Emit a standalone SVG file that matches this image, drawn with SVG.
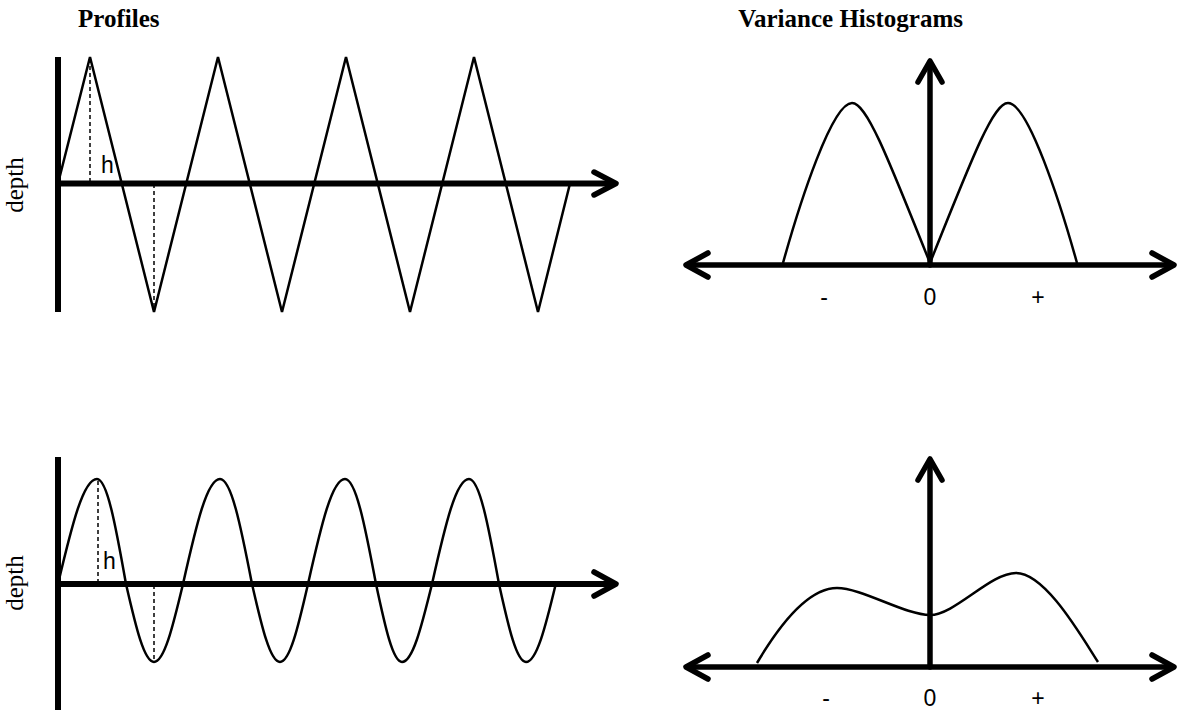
<svg xmlns="http://www.w3.org/2000/svg" width="1177" height="713" viewBox="0 0 1177 713">
<style>
.title{font-family:"Liberation Serif","Times New Roman",serif;font-weight:bold;font-size:25px;fill:#000}
.depth{font-family:"Liberation Serif","Times New Roman",serif;font-size:25px;fill:#000}
.lbl{font-family:"Liberation Sans",Arial,sans-serif;font-size:23px;fill:#000}
.axis{stroke:#000;stroke-width:6;fill:none}
.arrow{stroke:#000;stroke-width:5.5;fill:none;stroke-linecap:round;stroke-linejoin:round}
.wave{stroke:#000;stroke-width:2.5;fill:none;stroke-linejoin:miter}
.dash{stroke:#000;stroke-width:1.5;stroke-dasharray:4 3;fill:none}
</style>
<rect width="1177" height="713" fill="#fff"/>
<text class="title" x="78" y="27">Profiles</text>
<text class="title" x="963" y="27" text-anchor="end">Variance Histograms</text>

<g id="profile-triangle">
<text class="depth" transform="translate(23,185) rotate(-90)" text-anchor="middle">depth</text>
<polyline class="wave" points="58,183.5 90,57 154,312 218,57 282,312 346,57 410,312 474,57 538,312 570,183.5"/>
<line class="dash" x1="90" y1="59" x2="90" y2="183"/>
<line class="dash" x1="154" y1="184" x2="154" y2="310"/>
<text class="lbl" x="101" y="173">h</text>
</g>

<g id="profile-sine">
<text class="depth" transform="translate(23,583) rotate(-90)" text-anchor="middle">depth</text>
<path class="wave" d="M58,584 C72.2,523.9 83.5,479 97,479 C107,479 115.4,523.9 126,584
C136.2,628.6 144.3,662 154,662 C164,662 172.4,628.6 183,584
C196.5,523.9 207.2,479 220,479 C231.1,479 240.4,523.9 252,584
C262.2,628.6 270.3,662 280,662 C289.7,662 297.8,628.6 308,584
C321.5,523.9 332.2,479 345,479 C355.7,479 364.7,523.9 376,584
C385.5,628.6 393,662 402,662 C412.4,662 421.1,628.6 432,584
C445.5,523.9 456.2,479 469,479 C479.4,479 488.1,523.9 499,584
C508.8,628.6 516.7,662 526,662 C536.4,662 545.1,628.6 556,583"/>
<line class="dash" x1="98" y1="481" x2="98" y2="584"/>
<line class="dash" x1="154" y1="585" x2="154" y2="660"/>
<text class="lbl" x="103" y="569">h</text>
</g>

<g id="hist-top">
<path class="wave" d="M783,263 C800,202 832,103 852,103 C866,103 885,150 930,263 C975,150 994,103 1008,103 C1028,103 1060,202 1077,263"/>
<text class="lbl" x="824" y="305" text-anchor="middle">-</text>
<text class="lbl" x="930" y="305" text-anchor="middle">0</text>
<text class="lbl" x="1038" y="305" text-anchor="middle">+</text>
</g>

<g id="hist-bottom">
<path class="wave" d="M757,663 C783,619 810,588 837,588 C862,588 905,615 930,615 C955,615 990,573 1016,573 C1045,573 1080,634 1098,662"/>
<text class="lbl" x="826" y="706" text-anchor="middle">-</text>
<text class="lbl" x="930" y="706" text-anchor="middle">0</text>
<text class="lbl" x="1038" y="706" text-anchor="middle">+</text>
</g>

<g id="connectors">
<line class="axis" x1="58" y1="57" x2="58" y2="312"/>
<line class="axis" x1="58" y1="183.5" x2="614" y2="183.5"/>
<polyline class="arrow" points="594,172 616,183.5 594,195"/>
<line class="axis" x1="58" y1="457" x2="58" y2="710"/>
<line class="axis" x1="58" y1="584" x2="614" y2="584"/>
<polyline class="arrow" points="594,572 616,584 594,596"/>

<line class="arrow" x1="688" y1="265" x2="1170" y2="265"/>
<polyline class="arrow" points="708,253 686,265 708,277"/>
<polyline class="arrow" points="1152,253 1174,265 1152,277"/>
<line class="arrow" x1="930" y1="265" x2="930" y2="63"/>
<polyline class="arrow" points="918,82 930,61 942,82"/>

<line class="arrow" x1="688" y1="667" x2="1170" y2="667"/>
<polyline class="arrow" points="708,655 686,667 708,679"/>
<polyline class="arrow" points="1152,655 1174,667 1152,679"/>
<line class="arrow" x1="930" y1="667" x2="930" y2="461"/>
<polyline class="arrow" points="918,480 930,459 942,480"/>
</g>
</svg>
